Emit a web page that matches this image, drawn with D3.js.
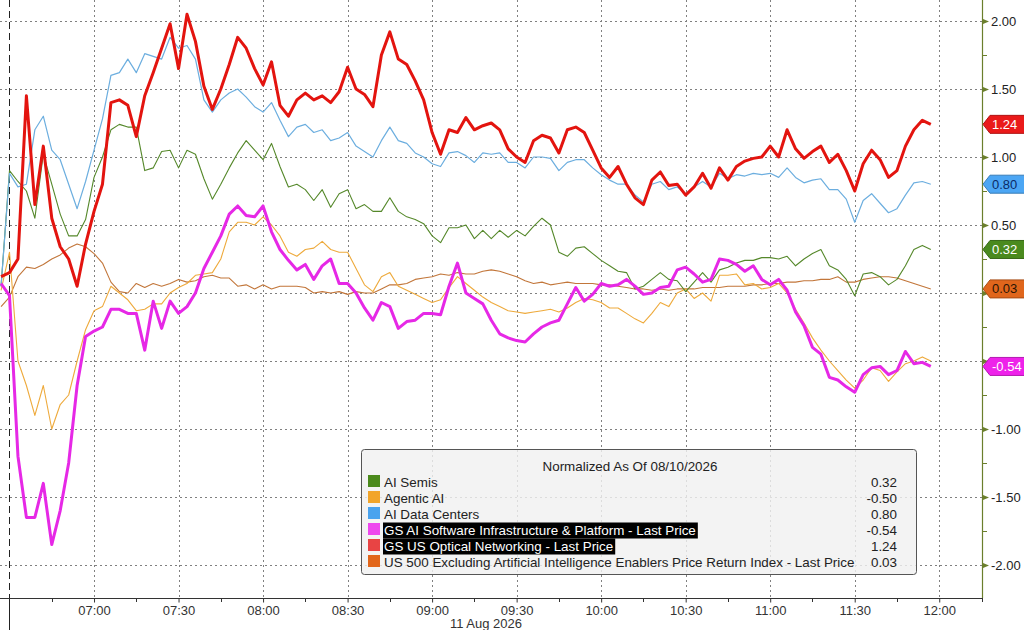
<!DOCTYPE html>
<html lang="en">
<head>
<meta charset="UTF-8">
<title>AI baskets intraday</title>
<script src="https://d3js.org/d3.v7.min.js"></script>
<style>
  body { margin: 0; background: #fff; }
  svg text { font-family: "Liberation Sans", Arial, sans-serif; }
</style>
</head>
<body>
<script>
// intraday samples, 11 Aug 2026, every 3 minutes
var times = [
  "06:27","06:30","06:33","06:36","06:39","06:42","06:45","06:48","06:51","06:54","06:57",
  "07:00","07:03","07:06","07:09","07:12","07:15","07:18","07:21","07:24","07:27",
  "07:30","07:33","07:36","07:39","07:42","07:45","07:48","07:51","07:54","07:57",
  "08:00","08:03","08:06","08:09","08:12","08:15","08:18","08:21","08:24","08:27",
  "08:30","08:33","08:36","08:39","08:42","08:45","08:48","08:51","08:54","08:57",
  "09:00","09:03","09:06","09:09","09:12","09:15","09:18","09:21","09:24","09:27",
  "09:30","09:33","09:36","09:39","09:42","09:45","09:48","09:51","09:54","09:57",
  "10:00","10:03","10:06","10:09","10:12","10:15","10:18","10:21","10:24","10:27",
  "10:30","10:33","10:36","10:39","10:42","10:45","10:48","10:51","10:54","10:57",
  "11:00","11:03","11:06","11:09","11:12","11:15","11:18","11:21","11:24","11:27",
  "11:30","11:33","11:36","11:39","11:42","11:45","11:48","11:51","11:54","11:57"
];

var aiSemis = [
  0.05,0.9,0.82,0.75,0.55,1.02,0.8,0.58,0.42,0.42,
  0.54,0.85,1.0,1.2,1.24,1.22,1.22,0.9,0.92,1.04,
  1.05,0.92,1.05,1.02,0.84,0.69,0.8,0.92,1.03,1.12,
  1.05,0.98,1.1,0.93,0.78,0.8,0.76,0.68,0.76,0.63,
  0.73,0.76,0.62,0.65,0.6,0.6,0.7,0.6,0.56,0.54,
  0.51,0.42,0.37,0.48,0.48,0.5,0.4,0.46,0.4,0.46,
  0.41,0.46,0.42,0.49,0.55,0.5,0.3,0.27,0.33,0.34,
  0.29,0.24,0.2,0.16,0.15,0.03,0.05,0.1,0.15,0.1,
  0.09,0.01,0.08,0.15,0.08,0.17,0.19,0.22,0.24,0.24,
  0.26,0.26,0.25,0.27,0.2,0.25,0.29,0.32,0.2,0.17,
  0.1,-0.02,0.14,0.15,0.12,0.06,0.1,0.2,0.32,0.35,0.32
];

var agenticAi = [
  0.02,0.3,-0.5,-0.68,-0.9,-0.68,-1.0,-0.82,-0.75,-0.5,
  -0.27,-0.13,-0.1,0.05,0.0,-0.05,-0.13,-0.12,-0.08,-0.08,
  0.0,0.04,0.07,0.13,0.14,0.15,0.25,0.45,0.52,0.52,
  0.5,0.56,0.5,0.42,0.3,0.27,0.32,0.33,0.38,0.32,
  0.3,0.3,0.18,0.06,0.01,0.12,0.15,0.05,0.02,-0.01,
  -0.04,-0.07,-0.05,0.04,0.12,0.07,0.02,-0.03,-0.07,-0.1,
  -0.13,-0.14,-0.15,-0.14,-0.13,-0.12,-0.14,-0.11,-0.07,-0.04,
  -0.05,-0.07,-0.11,-0.11,-0.15,-0.19,-0.22,-0.15,-0.07,-0.1,
  0.0,0.03,-0.04,0.0,-0.06,0.13,0.13,0.14,0.06,0.07,
  0.03,0.04,0.07,0.0,-0.12,-0.22,-0.33,-0.42,-0.5,-0.57,
  -0.64,-0.7,-0.64,-0.55,-0.57,-0.65,-0.58,-0.52,-0.5,-0.47,-0.5
];

var aiDataCenters = [
  0.05,0.88,0.78,0.8,1.2,1.3,1.05,0.98,0.8,0.62,
  0.82,1.05,1.28,1.6,1.62,1.72,1.62,1.76,1.74,1.72,
  1.88,1.8,1.82,1.72,1.42,1.33,1.42,1.47,1.5,1.44,
  1.37,1.33,1.4,1.27,1.15,1.22,1.24,1.18,1.2,1.12,
  1.14,1.18,1.08,1.04,1.0,1.12,1.22,1.12,1.1,1.03,
  1.0,0.95,0.93,1.03,1.04,1.01,0.96,1.03,1.02,1.03,
  0.96,0.96,0.92,1.0,1.0,0.99,0.9,0.96,0.98,0.98,
  0.92,0.87,0.83,0.8,0.8,0.72,0.67,0.8,0.82,0.76,
  0.78,0.73,0.78,0.82,0.78,0.88,0.84,0.87,0.86,0.88,
  0.87,0.88,0.85,0.92,0.85,0.81,0.83,0.84,0.76,0.76,
  0.69,0.52,0.68,0.73,0.66,0.59,0.62,0.72,0.81,0.82,0.80
];

var gsAiSoftware = [
  0.07,-0.02,-1.2,-1.65,-1.65,-1.4,-1.85,-1.6,-1.25,-0.68,
  -0.32,-0.28,-0.25,-0.12,-0.12,-0.15,-0.15,-0.42,-0.06,-0.26,
  -0.06,-0.15,-0.1,0.0,0.18,0.3,0.42,0.58,0.64,0.57,
  0.56,0.64,0.45,0.32,0.24,0.17,0.21,0.1,0.2,0.25,
  0.07,0.07,0.0,-0.11,-0.2,-0.07,-0.1,-0.26,-0.21,-0.2,
  -0.15,-0.15,-0.16,0.05,0.22,0.0,-0.04,-0.08,-0.2,-0.3,
  -0.33,-0.35,-0.36,-0.3,-0.25,-0.22,-0.2,-0.08,0.04,-0.06,
  -0.01,0.07,0.05,0.06,0.1,0.05,-0.01,0.0,0.04,0.05,
  0.17,0.19,0.14,0.08,0.1,0.25,0.24,0.21,0.16,0.2,
  0.1,0.06,0.1,0.02,-0.14,-0.24,-0.4,-0.45,-0.62,-0.64,
  -0.69,-0.73,-0.6,-0.55,-0.54,-0.6,-0.57,-0.43,-0.52,-0.51,-0.54
];

var gsOptical = [
  0.12,0.15,0.25,1.45,0.65,1.08,0.55,0.34,0.25,0.05,
  0.36,0.6,0.8,1.4,1.42,1.38,1.15,1.45,1.62,1.8,
  1.98,1.65,2.05,1.85,1.52,1.35,1.5,1.68,1.88,1.8,
  1.65,1.53,1.7,1.38,1.3,1.42,1.47,1.42,1.45,1.4,
  1.48,1.66,1.5,1.46,1.37,1.75,1.92,1.72,1.68,1.56,
  1.42,1.18,1.02,1.2,1.18,1.29,1.2,1.23,1.25,1.2,
  1.06,1.0,0.96,1.12,1.16,1.14,1.03,1.2,1.22,1.18,
  1.05,0.92,0.85,0.93,0.8,0.7,0.65,0.83,0.89,0.79,
  0.8,0.72,0.78,0.88,0.77,0.92,0.83,0.93,0.97,0.99,
  1.0,1.08,1.0,1.2,1.06,0.99,1.04,1.08,0.96,1.02,
  0.9,0.75,0.95,1.05,0.98,0.85,0.9,1.08,1.2,1.27,1.24
];

var us500exAi = [
  -0.1,-0.03,0.12,0.19,0.18,0.21,0.25,0.28,0.33,0.36,
  0.34,0.29,0.22,0.08,0.01,0.0,0.07,0.04,0.07,0.05,
  0.07,0.1,0.08,0.09,0.12,0.13,0.11,0.11,0.05,0.06,
  0.03,0.06,0.03,0.05,0.05,0.05,0.04,0.0,0.01,0.0,
  0.01,-0.01,0.01,0.0,0.0,0.03,0.06,0.06,0.07,0.1,
  0.11,0.12,0.14,0.13,0.15,0.14,0.14,0.16,0.17,0.16,
  0.14,0.12,0.09,0.07,0.08,0.06,0.07,0.08,0.07,0.07,
  0.07,0.06,0.06,0.05,0.04,0.03,0.03,0.02,0.03,0.02,
  0.03,0.03,0.03,0.04,0.04,0.04,0.05,0.05,0.05,0.06,
  0.06,0.07,0.07,0.08,0.08,0.09,0.09,0.1,0.1,0.12,
  0.08,0.08,0.1,0.11,0.12,0.12,0.11,0.09,0.07,0.05,0.03
];

var legendNames = [
  "AI Semis",
  "Agentic AI",
  "AI Data Centers",
  "GS AI Software Infrastructure & Platform - Last Price",
  "GS US Optical Networking - Last Price",
  "US 500 Excluding Artificial Intelligence Enablers Price Return Index - Last Price"
];
var lastValues = [0.32, -0.50, 0.80, -0.54, 1.24, 0.03];

var xTickLabels = ["07:00","07:30","08:00","08:30","09:00","09:30","10:00","10:30","11:00","11:30","12:00"];
var yTickValues = [-2, -1.5, -1, -0.5, 0, 0.5, 1, 1.5, 2];
var yHiddenLabels = [0, -0.5]; // covered by the value flags

// series styling, same order as legend
var series = [
  { values: aiSemis,       color: "#55882a", swatch: "#4b8a1c", width: 1.1, badge: true,  badgeText: "#fff" },
  { values: agenticAi,     color: "#eeaa3c", swatch: "#f2a52a", width: 1.1, badge: false },
  { values: aiDataCenters, color: "#6caedf", swatch: "#4aa3ee", width: 1.2, badge: true,  badgeText: "#0b2a66" },
  { values: gsAiSoftware,  color: "#e628e6", swatch: "#ee48ee", width: 3,   badge: true,  badgeText: "#fff", hl: true },
  { values: gsOptical,     color: "#e3140f", swatch: "#e84444", width: 3,   badge: true,  badgeText: "#fff", hl: true },
  { values: us500exAi,     color: "#c2763a", swatch: "#e2661a", width: 1.1, badge: true,  badgeText: "#2a1505" }
];
var badgeFill = ["#4a8a1e", null, "#4ca6f4", "#ee22ea", "#ea1a1a", "#e0661c"];

// plain hyphen for negatives, like the terminal
var fmt = d3.formatLocale({ decimal: ".", thousands: ",", grouping: [3], currency: ["", ""], minus: "-" }).format(".2f");

function toMin(s) {
  var p = s.split(":");
  return +p[0] * 60 + +p[1];
}

var width = 1024, height = 630;
var plotRight = 982, axisY = 598;

var svg = d3.select("body").append("svg")
  .attr("width", width)
  .attr("height", height);

var x = d3.scaleLinear().domain([390, 735]).range([9.5, 981.5]);
var y = d3.scaleLinear().domain([-2, 2]).range([565, 21]);

// grid
svg.append("g").selectAll("line")
  .data(yTickValues)
  .enter().append("line")
  .attr("x1", 0).attr("x2", plotRight)
  .attr("y1", function (d) { return Math.round(y(d)) + 0.5; })
  .attr("y2", function (d) { return Math.round(y(d)) + 0.5; })
  .attr("stroke", "#808080").attr("stroke-dasharray", "2,3");

svg.append("g").selectAll("line")
  .data(xTickLabels)
  .enter().append("line")
  .attr("x1", function (d) { return Math.round(x(toMin(d))) + 0.5; })
  .attr("x2", function (d) { return Math.round(x(toMin(d))) + 0.5; })
  .attr("y1", 0).attr("y2", axisY)
  .attr("stroke", "#808080").attr("stroke-dasharray", "2,3");

// session start marker
svg.append("line")
  .attr("x1", 9.5).attr("x2", 9.5).attr("y1", 0).attr("y2", axisY)
  .attr("stroke", "#222").attr("stroke-dasharray", "7,4");
svg.append("line")
  .attr("x1", 9.5).attr("x2", 9.5).attr("y1", axisY).attr("y2", height)
  .attr("stroke", "#222");

// legend box (behind lines)
var lg = svg.append("g");
lg.append("rect")
  .attr("x", 361.5).attr("y", 449.5).attr("width", 555).attr("height", 125)
  .attr("rx", 3)
  .attr("fill", "#f0f0f0").attr("fill-opacity", 0.82)
  .attr("stroke", "#555");

// lines
var line = d3.line()
  .x(function (d, i) { return x(toMin(times[i])); })
  .y(function (d) { return y(d); });

var drawOrder = [5, 1, 0, 2, 3, 4];
drawOrder.forEach(function (k) {
  svg.append("path")
    .datum(series[k].values)
    .attr("d", line)
    .attr("fill", "none")
    .attr("stroke", series[k].color)
    .attr("stroke-width", series[k].width)
    .attr("stroke-linejoin", "round");
});

// bottom axis
var xAxis = d3.axisBottom(x)
  .tickValues(xTickLabels.map(toMin))
  .tickFormat(function (d, i) { return xTickLabels[i]; })
  .tickSize(4)
  .tickPadding(3);
var gx = svg.append("g")
  .attr("transform", "translate(0," + (axisY + 0.5) + ")")
  .call(xAxis);
gx.select(".domain").remove();
gx.selectAll("text").attr("font-size", 13).attr("fill", "#333")
  .attr("font-family", "Liberation Sans, Arial, sans-serif");
gx.selectAll("line").attr("stroke", "#333");
svg.append("line")
  .attr("x1", 0).attr("x2", plotRight).attr("y1", axisY + 0.5).attr("y2", axisY + 0.5)
  .attr("stroke", "#333");
svg.append("g").selectAll("line")
  .data(d3.range(405, 736, 30))
  .enter().append("line")
  .attr("x1", function (d) { return Math.round(x(d)) + 0.5; })
  .attr("x2", function (d) { return Math.round(x(d)) + 0.5; })
  .attr("y1", axisY).attr("y2", axisY + 4)
  .attr("stroke", "#333");
svg.append("text")
  .attr("x", 486).attr("y", 628)
  .attr("text-anchor", "middle")
  .attr("font-size", 13).attr("fill", "#333")
  .text("11 Aug 2026");

// right axis
svg.append("line")
  .attr("x1", plotRight + 0.5).attr("x2", plotRight + 0.5)
  .attr("y1", 0).attr("y2", axisY)
  .attr("stroke", "#6b7f2c").attr("stroke-width", 1.2);
var yAxis = d3.axisRight(y)
  .tickValues(yTickValues)
  .tickFormat(function (d) {
    return yHiddenLabels.indexOf(d) >= 0 ? "" : fmt(d);
  })
  .tickSize(0)
  .tickPadding(9);
var gy = svg.append("g")
  .attr("transform", "translate(" + plotRight + ",0)")
  .call(yAxis);
gy.select(".domain").remove();
gy.selectAll("text").attr("font-size", 13).attr("fill", "#222")
  .attr("font-family", "Liberation Sans, Arial, sans-serif");
gy.selectAll(".tick").append("path")
  .attr("d", "M1,-2.5L7,0L1,2.5Z")
  .attr("fill", "#6b7f2c");
svg.append("g").selectAll("line")
  .data(d3.range(-1.75, 2, 0.5))
  .enter().append("line")
  .attr("x1", plotRight).attr("x2", plotRight + 5)
  .attr("y1", function (d) { return Math.round(y(d)) + 0.5; })
  .attr("y2", function (d) { return Math.round(y(d)) + 0.5; })
  .attr("stroke", "#6b7f2c");

// last value badges
series.forEach(function (s, k) {
  if (!s.badge) return;
  var cy = y(lastValues[k]);
  svg.append("path")
    .attr("d", "M" + (plotRight + 1) + "," + cy +
      "L" + (plotRight + 8) + "," + (cy - 9) +
      "L" + (width + 2) + "," + (cy - 9) +
      "L" + (width + 2) + "," + (cy + 9) +
      "L" + (plotRight + 8) + "," + (cy + 9) + "Z")
    .attr("fill", badgeFill[k])
    .attr("stroke", d3.color(badgeFill[k]).darker(0.8));
  svg.append("text")
    .attr("x", plotRight + 10).attr("y", cy + 4.5)
    .attr("font-size", 13).attr("fill", s.badgeText)
    .text(fmt(lastValues[k]));
});

// legend contents
lg.append("text")
  .attr("x", 630).attr("y", 471)
  .attr("text-anchor", "middle")
  .attr("font-size", 13.4).attr("fill", "#222")
  .text("Normalized As Of 08/10/2026");

legendNames.forEach(function (name, k) {
  var ty = 487 + k * 16;
  lg.append("rect")
    .attr("x", 368).attr("y", ty - 12).attr("width", 12).attr("height", 12)
    .attr("fill", series[k].swatch);
  var hlRect = lg.append("rect");
  var t = lg.append("text")
    .attr("x", 384).attr("y", ty)
    .attr("font-size", 13.4)
    .attr("fill", series[k].hl ? "#fff" : "#222")
    .text(name);
  if (series[k].hl) {
    var w = t.node().getComputedTextLength();
    hlRect.attr("x", 383).attr("y", ty - 12.5).attr("width", w + 3).attr("height", 16)
      .attr("fill", "#000");
  } else {
    hlRect.remove();
  }
  lg.append("text")
    .attr("x", 897).attr("y", ty)
    .attr("text-anchor", "end")
    .attr("font-size", 13.4).attr("fill", "#222")
    .text(fmt(lastValues[k]));
});
</script>
</body>
</html>
